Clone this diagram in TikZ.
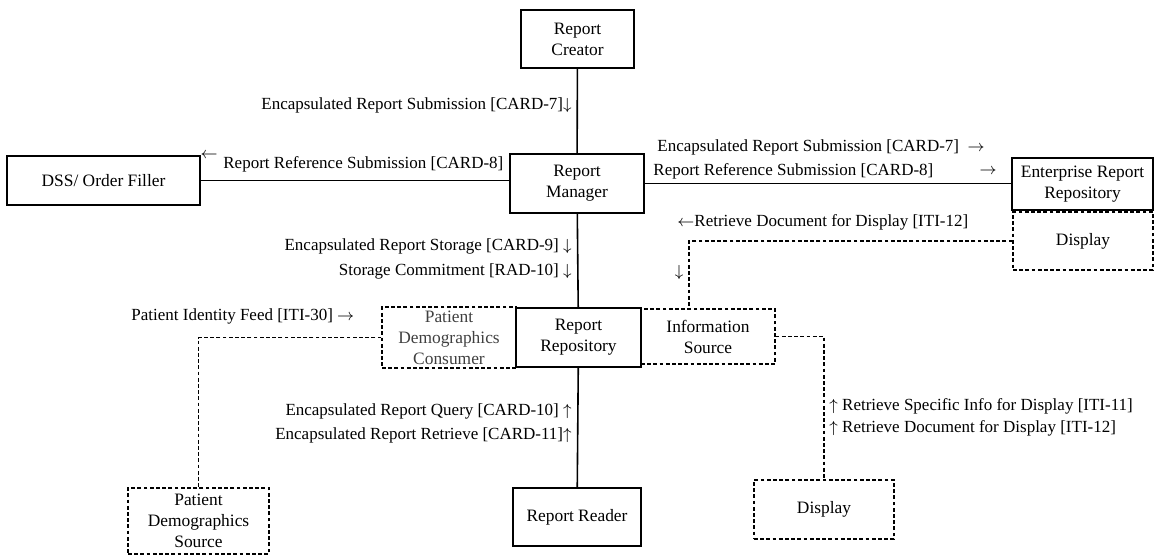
\documentclass[tikz,border=0pt]{standalone}
\usepackage{fontspec}
\setmainfont{Liberation Serif}

\tikzset{
  actor/.style={draw, line width=0.8pt, align=center, inner sep=1pt,
    font=\fontsize{8.7}{10.5}\selectfont},
  optactor/.style={actor, line width=0.55pt, dash pattern=on 1.9pt off 1.2pt},
  lbl/.style={inner sep=0pt, font=\fontsize{8.5}{10.5}\selectfont},
  link/.style={line width=0.8pt},
  optlink/.style={line width=0.55pt, dash pattern=on 1.9pt off 1.2pt},
}

\begin{document}
\begin{tikzpicture}[x=0.5pt, y=-0.5pt]
  \useasboundingbox (0,0) rectangle (1154,557);
  % actors
  \node[actor, minimum width=56.5pt, minimum height=29pt] (creator) at (577.5,39) {Report\\Creator};
  \node[actor, minimum width=67pt, minimum height=29.5pt] (manager) at (577,183.5) {Report\\Manager};
  \node[actor, minimum width=96.5pt, minimum height=24.5pt] (dss) at (103.5,180.5) {DSS/ Order Filler};
  \node[actor, minimum width=70.5pt, minimum height=26pt] (ent) at (1082.5,184) {Enterprise Report\\Repository};
  \node[optactor, minimum width=70pt, minimum height=29pt] (disp1) at (1083,241) {Display};
  \node[actor, minimum width=62.5pt, minimum height=29.5pt] (repo) at (578.5,337.5) {Report\\Repository};
  \node[optactor, minimum width=67pt, minimum height=30.5pt, text=black!75] (pdc) at (449,337.5) {Patient\\Demographics\\Consumer};
  \node[optactor, minimum width=67pt, minimum height=27.5pt] (info) at (708,336.5) {Information\\Source};
  \node[actor, minimum width=64pt, minimum height=29pt] (reader) at (577,517) {Report Reader};
  \node[optactor, minimum width=70.5pt, minimum height=33pt] (pds) at (198.5,521) {Patient\\Demographics\\Source};
  \node[optactor, minimum width=70pt, minimum height=29.5pt] (disp2) at (824,509.5) {Display};

  % connectors
  \draw[link] (creator) -- (manager);
  \draw[link] (manager) -- (repo);
  \draw[link] (repo) -- (reader);
  \draw[link] (dss.east) -- (dss.east -| manager.west);
  \draw[link] (manager.east) -- (manager.east -| ent.west);
  \draw[optlink] (disp1.west) -| ([xshift=-9.5pt]info.north);
  \draw[optlink] (info.east) -| (disp2.north);
  \draw[optlink] (pdc.west) -| (pds.north);

  % transaction labels
  \node[lbl, anchor=east] (l1) at (572,105) {Encapsulated Report Submission [CARD-7]$\downarrow$};
  \node[lbl] (l2a) at (209,155) {$\leftarrow$};
  \node[lbl, anchor=west] (l2) at (223,164) {Report Reference Submission [CARD-8]};
  \node[lbl, anchor=west] (l3) at (657,147) {Encapsulated Report Submission [CARD-7]\enspace$\rightarrow$};
  \node[lbl, anchor=west] (l4) at (653,171) {Report Reference Submission [CARD-8]};
  \node[lbl] (l4a) at (988,171) {$\rightarrow$};
  \node[lbl, anchor=west] (l5) at (677,222) {$\leftarrow$Retrieve Document for Display [ITI-12]};
  \node[lbl] (l5a) at (679,272) {$\downarrow$};
  \node[lbl, anchor=east] (l6) at (572,246) {Encapsulated Report Storage [CARD-9] $\downarrow$};
  \node[lbl, anchor=east] (l7) at (572,271) {Storage Commitment [RAD-10] $\downarrow$};
  \node[lbl, anchor=west] (l8) at (131,316) {Patient Identity Feed [ITI-30] $\rightarrow$};
  \node[lbl, anchor=east] (l9) at (572,411) {Encapsulated Report Query [CARD-10] $\uparrow$};
  \node[lbl, anchor=east] (l10) at (572,435) {Encapsulated Report Retrieve [CARD-11]$\uparrow$};
  \node[lbl, anchor=west] (l11) at (829,406) {$\uparrow$ Retrieve Specific Info for Display [ITI-11]};
  \node[lbl, anchor=west] (l12) at (829,428) {$\uparrow$ Retrieve Document for Display [ITI-12]};
\end{tikzpicture}
\end{document}
